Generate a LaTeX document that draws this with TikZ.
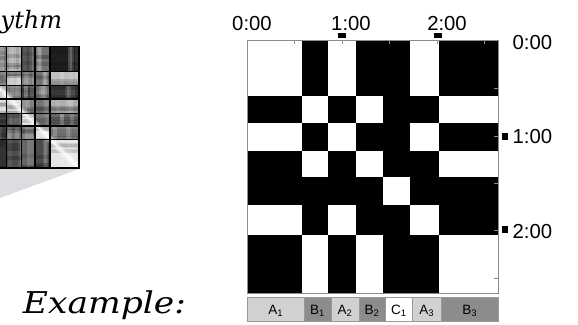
\documentclass[tikz,border=0pt]{standalone}
\usepackage{fontspec}
\setmainfont{Liberation Sans}
\newfontfamily\serifital{DejaVu Serif}
\begin{document}
\begin{tikzpicture}[x=1pt,y=-1pt,
  timelabel/.style={font=\fontsize{20.3}{22}\selectfont, inner sep=0pt},
  seglabel/.style={font=\fontsize{13.5}{14}\selectfont, inner sep=0pt, anchor=base},
  segbox/.style={draw=black!40, line width=0.6pt},
  axisline/.style={draw=black!45, line width=0.6pt},
  gridline/.style={draw=black, line width=1.3pt},
  marker/.style={fill=black}]
\useasboundingbox (0,0) rectangle (578,324);
\definecolor{segA}{gray}{0.82}
\definecolor{segB}{gray}{0.55}
\definecolor{segC}{gray}{1}
\definecolor{cone}{RGB}{220,221,224}

% ---------- thumbnail of the similarity matrix ----------
\fill[cone] (0,169) -- (79,169) -- (0,198) -- cycle;
\def\ty{{46.7,71.7,85.7,99,113.3,126,139.3,168}}
\def\tx{{-12,6.7,21.7,35,50,79}}
\def\tg{{50,35,72,55,88, 55,22,50,55,25, 20,50,72,55,78, 12,18,50,55,32, 75,68,12,55,60, 75,55,50,12,50, 80,70,60,70,10}}
\pgfmathsetseed{11}
\begin{scope}
\clip (0,46.7) rectangle (79,168);
\foreach \i in {0,...,6}{
  \foreach \j in {0,...,4}{
    \pgfmathsetmacro\xa{\tx[\j]}
    \pgfmathsetmacro\xb{\tx[\j+1]}
    \pgfmathsetmacro\ya{\ty[\i]}
    \pgfmathsetmacro\yb{\ty[\i+1]}
    \pgfmathtruncatemacro\g{\tg[5*\i+\j]}
    \begin{scope}
      \clip (\xa,\ya) rectangle (\xb,\yb);
      \fill[black!\g] (\xa,\ya) rectangle (\xb,\yb);
      \foreach \s in {1,...,3}{
        \pgfmathsetmacro\xs{\xa+(\xb-\xa)*rnd}
        \pgfmathsetmacro\op{0.08+0.15*rnd}
        \fill[white, opacity=\op] (\xs,\ya) rectangle ++(4,\yb-\ya);
        \pgfmathsetmacro\ys{\ya+(\yb-\ya)*rnd}
        \pgfmathsetmacro\oq{0.08+0.15*rnd}
        \fill[black, opacity=\oq] (\xa,\ys) rectangle ++(\xb-\xa,4);
      }
    \end{scope}
  }
}
% bright main diagonal
\draw[white, opacity=0.7, line width=2.5pt] (79,168) -- (-20,69);
\draw[white, opacity=0.35, line width=7pt] (79,168) -- (-20,69);
% segment grid
\foreach \k in {1,...,4}{
  \pgfmathsetmacro\xg{\tx[\k]}
  \draw[gridline] (\xg,46.7) -- (\xg,168);
}
\foreach \k in {1,...,6}{
  \pgfmathsetmacro\yg{\ty[\k]}
  \draw[gridline] (0,\yg) -- (79,\yg);
}
\end{scope}
\draw[gridline] (0,46.7) -- (79,46.7) -- (79,168) -- (0,168);
\node[font=\serifital\itshape\fontsize{24}{26}\selectfont, anchor=base west, inner sep=0pt]
  (title) at (0.5,28) {ythm};

% ---------- segment-level similarity matrix ----------
\def\bx{{247.3,302.3,328.3,356.3,383,410.3,439.3,498.3}}
\def\by{{40.7,96,123.3,151,177.3,205.3,235,293.3}}
\def\segtype{{0,1,0,1,2,0,1}}
\fill[black] (247.3,40.7) rectangle (498.3,293.3);
\foreach \i in {0,...,6}{
  \foreach \j in {0,...,6}{
    \pgfmathtruncatemacro\same{\segtype[\i]==\segtype[\j] ? 1 : 0}
    \ifnum\same=1
      \pgfmathsetmacro\xa{\bx[\j]}
      \pgfmathsetmacro\xb{\bx[\j+1]}
      \pgfmathsetmacro\ya{\by[\i]}
      \pgfmathsetmacro\yb{\by[\i+1]}
      \fill[white] (\xa,\ya) rectangle (\xb,\yb);
    \fi
  }
}
\draw[axisline] (247.3,40.7) rectangle (498.3,293.3);
\foreach \t in {294.5,342,389.5,437,484.5}
  \draw[axisline] (\t,40.7) -- ++(0,3.5);
\foreach \t in {88.3,136,183.3,230.7,278}
  \draw[axisline] (498.3,\t) -- ++(-4,0);

% time axes
\node[timelabel, anchor=base] (t0) at (252,30) {0:00};
\node[timelabel, anchor=base] (t1) at (351,30) {1:00};
\node[timelabel, anchor=base] (t2) at (447,30) {2:00};
\node[timelabel, anchor=base west] (r0) at (512.5,49) {0:00};
\node[timelabel, anchor=base west] (r1) at (512.5,143.5) {1:00};
\node[timelabel, anchor=base west] (r2) at (512.5,238) {2:00};
\fill[marker] (338.3,33.3) rectangle (345.7,38.3);
\fill[marker] (434.3,33.3) rectangle (441.7,38.3);
\fill[marker] (501.7,132.5) rectangle (508.3,139.5);
\fill[marker] (501.7,226.3) rectangle (508.3,233.3);

% ---------- segment labels ----------
\foreach \a/\b/\c/\t [count=\k] in {
  247.3/304/segA/A\textsubscript{1},
  304/331/segB/B\textsubscript{1},
  331/359/segA/A\textsubscript{2},
  359/385/segB/B\textsubscript{2},
  385/412.7/segC/C\textsubscript{1},
  412.7/441/segA/A\textsubscript{3},
  441/498.3/segB/B\textsubscript{3}}{
  \draw[segbox, fill=\c] (\a,297.3) rectangle (\b,321.3);
  \node[seglabel] (seg\k) at ({(\a+\b)/2},314) {\t};
}

\node[font=\serifital\itshape\fontsize{30}{32}\selectfont, anchor=base west, inner sep=0pt,
  xscale=1.15] (example) at (22.7,313.3) {Example:};
\end{tikzpicture}
\end{document}
